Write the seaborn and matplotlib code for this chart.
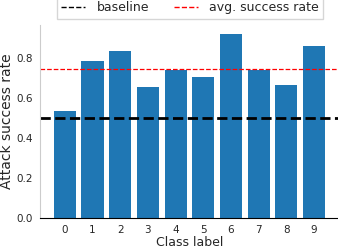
import numpy as np
import pandas as pd
import seaborn as sns
import matplotlib.pyplot as plt
from matplotlib.lines import Line2D

# values
classes = [0, 1, 2, 3, 4, 5, 6, 7, 8, 9]
success_rate = [0.535, 0.785, 0.835, 0.655, 0.742, 0.705, 0.92, 0.742, 0.665, 0.86]
baseline = 0.5

df = pd.DataFrame({"cls": classes, "rate": success_rate})
avg_rate = df["rate"].mean()

sns.set_style("white")
plt.rcParams["font.family"] = ["DejaVu Sans"]

fig = plt.figure(figsize=(3.38, 2.5), dpi=100)
ax = fig.add_axes([0.118, 0.128, 0.885, 0.772])

sns.barplot(data=df, x="cls", y="rate", color="#1f77b4", saturation=1, width=0.8,
            linewidth=0, ax=ax)
ax.axhline(baseline, color="black", linestyle="--", linewidth=2)
ax.axhline(avg_rate, color="red", linestyle="--", linewidth=0.9)

ax.set_xlim(-0.9, 9.9)
ax.set_ylim(0, 0.966)
ax.set_yticks([0.0, 0.2, 0.4, 0.6, 0.8])
ax.set_xlabel("Class label", fontsize=9, labelpad=1)
ax.set_ylabel("Attack success rate", fontsize=10, labelpad=1.5)

ax.spines["top"].set_visible(False)
ax.spines["right"].set_visible(False)
ax.spines["left"].set_color("#cccccc")
ax.spines["bottom"].set_color("black")
ax.tick_params(axis="x", length=3, width=0.8, color="black", labelsize=7.5, pad=2)
ax.tick_params(axis="y", length=3, width=0.8, color="#bbbbbb", labelsize=7.5, pad=2)

handles = [
    Line2D([], [], color="black", linestyle="--", linewidth=1),
    Line2D([], [], color="red", linestyle="--", linewidth=1),
]
ax.legend(handles, ["baseline", "avg. success rate"], loc="lower center",
          bbox_to_anchor=(0.502, 1.0), ncol=2, fontsize=9, frameon=True,
          edgecolor="#cccccc", fancybox=False, borderpad=0.35, columnspacing=2.0,
          handlelength=1.9, handletextpad=0.9)

fig.savefig("out.png", dpi=100)
